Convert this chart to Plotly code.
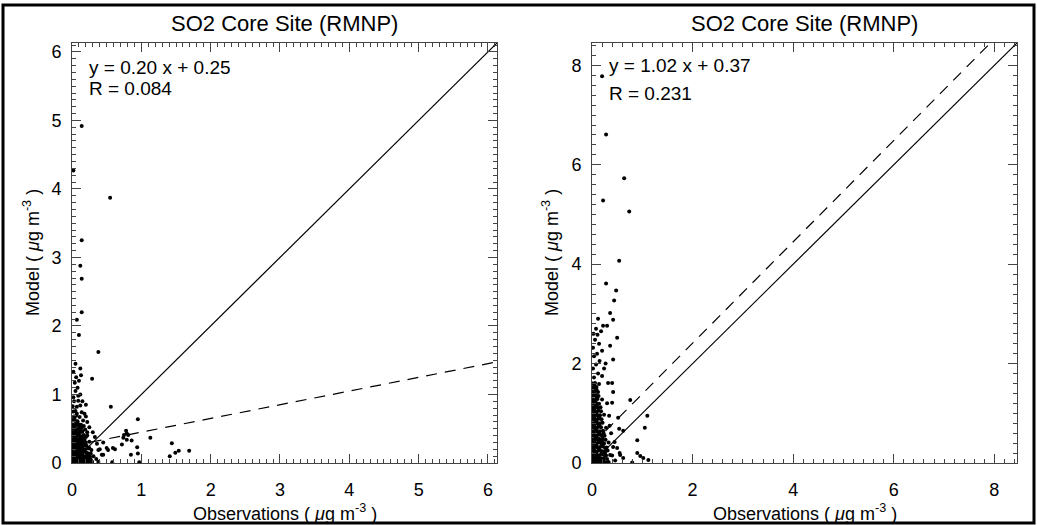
import plotly.graph_objects as go

# SO2 at the RMNP core site: model vs. observations, two model runs side by side
TITLE = "SO2 Core Site (RMNP)"

# (observation, model) pairs, ug m-3 -- left run
left_points = [
    (0.01, 0.02), (0.04, 0.03), (0.07, 0.01), (0.10, 0.02), (0.13, 0.03), (0.16, 0.01), (0.19, 0.02), (0.22, 0.03), (0.25, 0.01), (0.29, 0.02),
    (0.02, 0.06), (0.05, 0.07), (0.08, 0.05), (0.11, 0.06), (0.14, 0.07), (0.17, 0.05), (0.20, 0.06), (0.23, 0.07), (0.27, 0.05),
    (0.01, 0.10), (0.04, 0.11), (0.07, 0.09), (0.10, 0.10), (0.13, 0.11), (0.16, 0.09), (0.19, 0.10), (0.22, 0.11), (0.26, 0.09), (0.31, 0.10),
    (0.02, 0.15), (0.05, 0.14), (0.08, 0.16), (0.11, 0.15), (0.14, 0.14), (0.17, 0.16), (0.21, 0.15), (0.24, 0.14),
    (0.01, 0.20), (0.04, 0.21), (0.07, 0.19), (0.10, 0.20), (0.13, 0.21), (0.16, 0.19), (0.19, 0.20), (0.23, 0.21), (0.28, 0.19),
    (0.02, 0.25), (0.05, 0.24), (0.08, 0.26), (0.11, 0.25), (0.14, 0.24), (0.18, 0.26), (0.21, 0.25),
    (0.01, 0.30), (0.04, 0.31), (0.07, 0.29), (0.10, 0.30), (0.13, 0.31), (0.16, 0.29), (0.20, 0.30), (0.25, 0.31),
    (0.02, 0.35), (0.05, 0.36), (0.08, 0.34), (0.11, 0.35), (0.15, 0.36), (0.18, 0.34),
    (0.01, 0.40), (0.04, 0.39), (0.07, 0.41), (0.10, 0.40), (0.13, 0.39), (0.17, 0.41), (0.22, 0.40),
    (0.02, 0.45), (0.05, 0.46), (0.08, 0.44), (0.12, 0.45), (0.15, 0.46),
    (0.01, 0.50), (0.04, 0.51), (0.07, 0.49), (0.10, 0.50), (0.14, 0.51), (0.19, 0.49),
    (0.02, 0.56), (0.05, 0.55), (0.09, 0.57), (0.13, 0.56),
    (0.01, 0.62), (0.04, 0.63), (0.08, 0.61), (0.16, 0.62),
    (0.03, 0.68), (0.06, 0.69), (0.11, 0.67), (0.20, 0.68),
    (0.02, 0.75), (0.05, 0.76), (0.14, 0.74), (0.18, 0.72), (0.22, 0.60), (0.25, 0.52),
    (0.01, 0.83), (0.07, 0.82), (0.12, 0.84), (0.03, 0.90), (0.09, 0.91), (0.15, 0.90), (0.20, 0.85),
    (0.02, 0.96), (0.09, 0.98), (0.12, 1.00), (0.05, 1.05), (0.08, 1.10), (0.04, 1.17), (0.10, 1.20),
    (0.06, 1.25), (0.13, 1.28), (0.02, 1.33), (0.05, 1.45), (0.12, 1.38), (0.29, 1.23),
    (0.03, 0.04), (0.06, 0.09), (0.09, 0.03), (0.12, 0.08), (0.15, 0.04), (0.18, 0.08), (0.21, 0.04),
    (0.03, 0.13), (0.06, 0.17), (0.09, 0.12), (0.12, 0.18), (0.15, 0.12), (0.18, 0.18),
    (0.03, 0.22), (0.06, 0.27), (0.09, 0.22), (0.12, 0.28), (0.15, 0.22),
    (0.03, 0.33), (0.06, 0.38), (0.09, 0.32), (0.12, 0.38), (0.15, 0.32),
    (0.03, 0.43), (0.06, 0.48), (0.09, 0.42), (0.12, 0.48), (0.03, 0.53), (0.06, 0.59), (0.10, 0.53),
    (0.03, 0.65), (0.07, 0.72), (0.24, 0.08), (0.27, 0.14), (0.25, 0.22), (0.20, 0.38), (0.17, 0.54),
    (0.22, 0.45),
    (0.30, 0.45), (0.33, 0.38), (0.36, 0.28), (0.40, 0.20), (0.43, 0.12), (0.35, 0.06), (0.45, 0.30),
    (0.50, 0.22), (0.38, 0.02), (0.38, 0.19), (0.45, 0.12), (0.52, 0.19), (0.59, 0.22), (0.58, 0.01),
    (0.14, 4.92), (0.02, 4.27), (0.55, 3.87), (0.14, 3.25), (0.12, 2.88), (0.14, 2.69), (0.14, 2.20),
    (0.07, 2.09), (0.10, 1.87), (0.38, 1.62), (0.56, 0.82), (0.95, 0.64), (0.78, 0.47), (0.62, 0.20),
    (0.85, 0.12), (0.97, 0.01), (1.13, 0.37), (1.44, 0.29), (1.41, 0.10), (1.49, 0.15), (1.54, 0.18),
    (1.69, 0.18), (0.94, 0.23), (0.72, 0.27), (0.74, 0.37), (0.79, 0.34), (0.81, 0.41), (0.86, 0.33),
    (0.75, 0.41), (0.79, 0.43), (0.95, 0.14),
]

# (observation, model) pairs, ug m-3 -- right run
right_points = [
    (0.01, 0.02), (0.06, 0.03), (0.11, 0.01), (0.16, 0.02), (0.21, 0.03), (0.27, 0.01), (0.33, 0.02),
    (0.03, 0.09), (0.08, 0.10), (0.13, 0.08), (0.18, 0.09), (0.24, 0.10), (0.30, 0.08),
    (0.01, 0.16), (0.06, 0.17), (0.11, 0.15), (0.16, 0.16), (0.22, 0.17), (0.28, 0.15), (0.36, 0.16),
    (0.03, 0.24), (0.08, 0.23), (0.13, 0.25), (0.19, 0.24), (0.25, 0.23), (0.31, 0.25),
    (0.01, 0.32), (0.06, 0.33), (0.11, 0.31), (0.16, 0.32), (0.22, 0.33), (0.29, 0.31), (0.42, 0.32),
    (0.03, 0.40), (0.08, 0.39), (0.13, 0.41), (0.18, 0.40), (0.24, 0.39), (0.33, 0.41),
    (0.01, 0.48), (0.06, 0.49), (0.11, 0.47), (0.16, 0.48), (0.21, 0.49), (0.27, 0.47),
    (0.03, 0.56), (0.08, 0.55), (0.13, 0.57), (0.19, 0.56), (0.25, 0.55),
    (0.01, 0.64), (0.06, 0.65), (0.11, 0.63), (0.16, 0.64), (0.22, 0.65),
    (0.03, 0.72), (0.08, 0.71), (0.13, 0.73), (0.18, 0.72), (0.28, 0.71),
    (0.01, 0.80), (0.06, 0.81), (0.11, 0.79), (0.16, 0.80), (0.21, 0.81),
    (0.03, 0.88), (0.08, 0.87), (0.13, 0.89), (0.19, 0.88),
    (0.01, 0.96), (0.06, 0.97), (0.11, 0.95), (0.16, 0.96), (0.24, 0.97),
    (0.03, 1.04), (0.08, 1.03), (0.13, 1.05), (0.18, 1.04),
    (0.01, 1.12), (0.06, 1.13), (0.11, 1.11), (0.17, 1.12),
    (0.03, 1.20), (0.08, 1.21), (0.14, 1.19),
    (0.01, 1.28), (0.06, 1.27), (0.11, 1.29), (0.20, 1.28),
    (0.03, 1.36), (0.08, 1.37), (0.13, 1.35),
    (0.01, 1.44), (0.06, 1.45), (0.12, 1.43),
    (0.03, 1.52), (0.09, 1.53), (0.01, 1.60), (0.06, 1.61), (0.14, 1.59),
    (0.04, 0.05), (0.09, 0.06), (0.14, 0.04), (0.19, 0.06), (0.04, 0.13), (0.09, 0.20), (0.14, 0.12),
    (0.19, 0.20), (0.04, 0.28), (0.09, 0.36), (0.14, 0.28), (0.20, 0.36), (0.04, 0.44), (0.09, 0.52),
    (0.14, 0.44), (0.04, 0.60), (0.09, 0.68), (0.14, 0.60), (0.04, 0.76), (0.09, 0.84), (0.14, 0.76),
    (0.04, 0.92), (0.09, 1.00), (0.14, 0.92), (0.04, 1.08), (0.09, 1.16), (0.04, 1.24), (0.09, 1.32),
    (0.04, 1.40), (0.09, 1.48), (0.05, 1.56), (0.23, 0.06), (0.26, 0.20), (0.20, 0.44), (0.23, 0.60),
    (0.26, 0.30),
    (0.04, 1.72), (0.12, 1.80), (0.02, 1.90), (0.08, 1.98), (0.15, 2.05), (0.04, 2.15), (0.10, 2.20),
    (0.02, 2.32), (0.14, 2.40), (0.06, 2.48), (0.03, 2.60), (0.18, 2.65), (0.08, 2.70), (0.11, 2.58),
    (0.20, 1.75), (0.24, 1.90), (0.27, 2.00), (0.30, 1.20), (0.34, 0.95), (0.38, 0.60), (0.45, 0.42),
    (0.50, 0.30), (0.40, 0.15), (0.46, 0.05), (0.35, 0.75), (0.55, 0.20),
    (0.20, 7.78), (0.28, 6.61), (0.64, 5.73), (0.22, 5.28), (0.74, 5.06), (0.54, 4.07), (0.28, 3.61),
    (0.48, 3.47), (0.44, 3.27), (0.36, 3.02), (0.12, 2.90), (0.42, 2.88), (0.22, 2.76), (0.30, 2.76),
    (0.50, 2.52), (0.36, 2.36), (0.20, 2.26), (0.42, 2.08), (0.32, 1.61), (0.40, 1.61), (0.76, 1.27),
    (0.42, 1.43), (0.40, 1.21), (0.52, 0.91), (1.10, 0.95), (1.05, 0.71), (0.90, 0.46), (0.54, 0.69),
    (0.62, 0.65), (0.90, 0.20), (0.96, 0.14), (1.02, 0.10), (1.12, 0.06), (0.80, 0.01), (0.62, 0.10),
    (0.56, 0.16),
]

# regression fits (slope, intercept) and correlation coefficients
left_slope, left_intercept, left_r = 0.20, 0.25, 0.084
right_slope, right_intercept, right_r = 1.02, 0.37, 0.231

left_max = 6.13
right_max = 8.45
left_ticks = [0, 1, 2, 3, 4, 5, 6]
right_ticks = [0, 2, 4, 6, 8]

W, H = 1037, 525
FONT = "Liberation Sans, Arial, Helvetica, sans-serif"
AXC = "#444444"


def px_x(p):
    return p / W


def px_y(p):
    return (H - p) / H


fig = go.Figure()


def add_panel(points, slope, intercept, vmax, xa, ya):
    obs = [p[0] for p in points]
    mod = [p[1] for p in points]
    fig.add_trace(go.Scatter(
        x=obs, y=mod, mode="markers", xaxis=xa, yaxis=ya,
        marker=dict(size=4, color="black", line=dict(width=0)),
        showlegend=False, hoverinfo="skip"))
    # 1:1 line
    fig.add_trace(go.Scatter(
        x=[0, vmax], y=[0, vmax], mode="lines", xaxis=xa, yaxis=ya,
        line=dict(color="black", width=1.2), showlegend=False, hoverinfo="skip"))
    # regression line, clipped to the plot box
    x_end = min(vmax, (vmax - intercept) / slope)
    fig.add_trace(go.Scatter(
        x=[0, x_end], y=[intercept, slope * x_end + intercept], mode="lines",
        xaxis=xa, yaxis=ya,
        line=dict(color="black", width=1.2, dash="11px,8px"),
        showlegend=False, hoverinfo="skip"))


add_panel(left_points, left_slope, left_intercept, left_max, "x", "y")
add_panel(right_points, right_slope, right_intercept, right_max, "x2", "y2")


def axis_style(vmax, ticks, minor_step, domain, anchor, standoff):
    return dict(
        domain=domain, anchor=anchor, range=[0, vmax],
        tickmode="array", tickvals=ticks, ticktext=[str(t) for t in ticks],
        ticks="inside", ticklen=9, tickwidth=1, tickcolor=AXC,
        minor=dict(dtick=minor_step, tick0=0, ticks="inside", ticklen=4,
                   tickwidth=1, tickcolor=AXC, showgrid=False),
        showline=True, linecolor=AXC, linewidth=1, mirror="ticks",
        showgrid=False, zeroline=False, automargin=False,
        ticklabelstandoff=standoff,
        tickfont=dict(family=FONT, size=18, color="black"),
    )


y_dom = [px_y(463), px_y(43)]
fig.update_layout(
    width=W, height=H,
    margin=dict(l=0, r=0, t=0, b=0),
    paper_bgcolor="white", plot_bgcolor="white",
    font=dict(family=FONT, color="black"),
    xaxis=axis_style(left_max, left_ticks, 0.1, [px_x(72), px_x(497)], "y", 10),
    yaxis=axis_style(left_max, left_ticks, 0.1, y_dom, "x", 6),
    xaxis2=axis_style(right_max, right_ticks, 0.2, [px_x(592), px_x(1017)], "y2", 10),
    yaxis2=axis_style(right_max, right_ticks, 0.2, y_dom, "x2", 6),
)

ann = []
for cx in ((72 + 497) / 2, (592 + 1017) / 2):
    ann.append(dict(text=TITLE, x=px_x(cx), y=px_y(23), xref="paper", yref="paper",
                    xanchor="center", yanchor="middle", showarrow=False,
                    font=dict(family=FONT, size=22, color="black")))
    ann.append(dict(text="Observations ( <i>\u03bc</i>g m<sup>-3</sup> )",
                    x=px_x(cx), y=px_y(512), xref="paper", yref="paper",
                    xanchor="center", yanchor="middle", showarrow=False,
                    font=dict(family=FONT, size=18, color="black")))
for ax_x in (31, 550):
    ann.append(dict(text="Model ( <i>\u03bc</i>g m<sup>-3</sup> )",
                    x=px_x(ax_x), y=px_y(253), xref="paper", yref="paper",
                    xanchor="center", yanchor="middle", textangle=-90, showarrow=False,
                    font=dict(family=FONT, size=18, color="black")))

# fit equation and correlation inside each panel
for slope, icpt, r, x0, y_eq, y_r in (
        (left_slope, left_intercept, left_r, 87, 68, 88),
        (right_slope, right_intercept, right_r, 607, 65, 93)):
    for text, yp in ((f"y = {slope:.2f} x + {icpt:.2f}", y_eq), (f"R = {r:.3f}", y_r)):
        ann.append(dict(text=text, x=px_x(x0), y=px_y(yp), xref="paper", yref="paper",
                        xanchor="left", yanchor="middle", showarrow=False,
                        font=dict(family=FONT, size=19, color="black")))

fig.update_layout(annotations=ann)

# outer frame round the whole figure
fig.add_shape(type="rect", xref="paper", yref="paper",
              x0=px_x(3), x1=px_x(1034), y0=px_y(523), y1=px_y(5),
              line=dict(color="black", width=3), fillcolor="rgba(0,0,0,0)")

fig.write_html("out.html")
